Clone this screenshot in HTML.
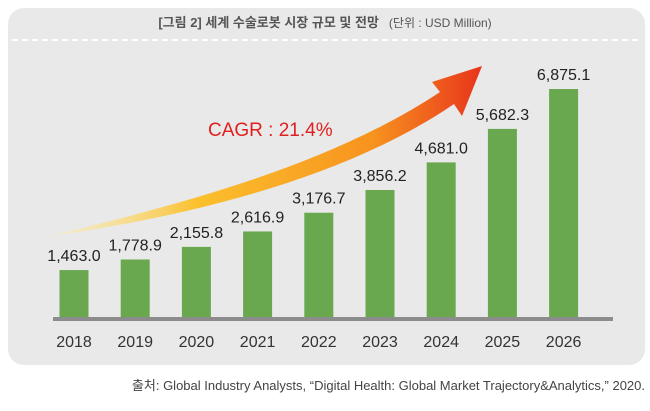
<!DOCTYPE html>
<html><head><meta charset="utf-8"><style>
body{margin:0;width:650px;height:406px;background:#fff;overflow:hidden;font-family:"Liberation Sans","Noto Sans CJK KR",sans-serif}
</style></head><body>
<svg width="650" height="406">
<defs>
<linearGradient id="ag" x1="0" y1="0" x2="1" y2="0">
<stop offset="0" stop-color="#fff0a0" stop-opacity="0.3"/><stop offset="0.35" stop-color="#fbc02d"/><stop offset="0.75" stop-color="#f7931e"/><stop offset="1" stop-color="#e8341c"/>
</linearGradient>
</defs>
<rect x="8" y="8" width="637" height="357" rx="16" fill="#e9e9e9"/>
<line x1="12" y1="40" x2="642" y2="40" stroke="#fff" stroke-width="2" stroke-dasharray="6,4"/>
<text x="325" y="27" text-anchor="middle" font-size="13" fill="#555"><tspan font-weight="bold">[그림 2]  세계 수술로봇 시장 규모 및 전망</tspan><tspan font-size="12" dx="10">(단위 : USD Million)</tspan></text>
<path d="M45,237 C180,205 330,165 440,92 L432,82 L482,66 L462,116 L454,104 C350,175 200,215 45,237 Z" fill="url(#ag)"/>
<text x="208" y="136" font-size="19" fill="#e02020">CAGR : 21.4%</text>
<g id="bars"></g>
<rect x="53" y="317" width="560" height="4" fill="#8c8c8c"/>
<text x="645" y="390" text-anchor="end" font-size="13" fill="#444">출처: Global Industry Analysts, “Digital Health: Global Market Trajectory&amp;Analytics,” 2020.</text>
</svg>
<script>
const years=["2018","2019","2020","2021","2022","2023","2024","2025","2026"];
const values=[1463.0,1778.9,2155.8,2616.9,3176.7,3856.2,4681.0,5682.3,6875.1];
const labels=["1,463.0","1,778.9","2,155.8","2,616.9","3,176.7","3,856.2","4,681.0","5,682.3","6,875.1"];
const ns="http://www.w3.org/2000/svg";
const g=document.getElementById('bars');
const base=319, scale=230/6875.1;
const xc=i=>74+i*61.2;
const y=v=>base-v*scale;
years.forEach((yr,i)=>{
 const r=document.createElementNS(ns,'rect');
 r.setAttribute('x',xc(i)-14.5);r.setAttribute('y',y(values[i]));r.setAttribute('width',29);r.setAttribute('height',base-y(values[i]));r.setAttribute('fill','#6aa84f');
 
 
 g.appendChild(r);
 const t=document.createElementNS(ns,'text');
 t.setAttribute('x',xc(i));t.setAttribute('y',y(values[i])-9);t.setAttribute('text-anchor','middle');t.setAttribute('font-size','16');t.setAttribute('fill','#222');
 t.textContent=labels[i];
 
 
 g.appendChild(t);
 const l=document.createElementNS(ns,'text');
 l.setAttribute('x',xc(i));l.setAttribute('y',347);l.setAttribute('text-anchor','middle');l.setAttribute('font-size','16');l.setAttribute('fill','#333');
 l.textContent=yr;
 
 
 g.appendChild(l);
});
</script>
</body></html>
